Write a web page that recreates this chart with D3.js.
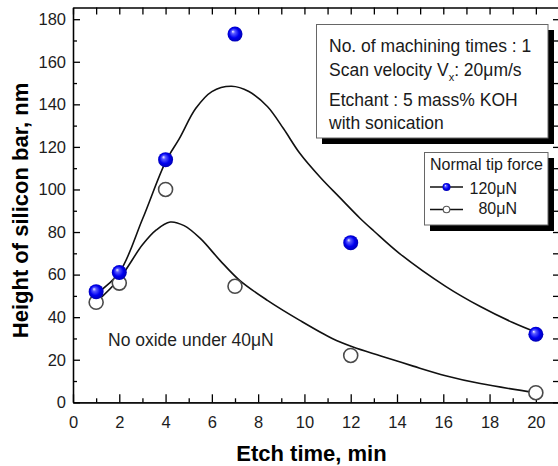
<!DOCTYPE html>
<html>
<head>
<meta charset="utf-8">
<script src="https://cdn.jsdelivr.net/npm/d3@7"></script>
<style>
  html, body { margin: 0; padding: 0; background: #fff; }
  svg { display: block; font-family: "Liberation Sans", Arial, sans-serif; }
</style>
</head>
<body>
<svg id="chart" width="558" height="466"></svg>
<script>
// Measured bar heights (nm) at each etch time (min)
const etchTimes = [1, 2, 4, 7, 12, 20];
const height120uN = [52, 61, 114, 173, 75, 32];
const height80uN = [47, 56, 100, 54.5, 22, 4.5];

// Fitted trend curves, [etch time, height]
const fit120uN = [[1, 51], [2, 61], [3, 86], [4, 113], [4.6, 124], [5.3, 138], [6.0, 146],
  [6.85, 148.5], [7.6, 146], [8.4, 139], [9.1, 128.5], [9.8, 117], [10.7, 105.5], [11.5, 96.5],
  [12.4, 86.5], [13.0, 80.5], [14.1, 70], [16.1, 54.5], [17.6, 45], [19, 37.5], [20, 33]];
const fit80uN = [[1, 47], [2, 58], [3, 74], [3.6, 81], [4.2, 84.7], [4.8, 83], [5.5, 77],
  [6.35, 66.7], [7.2, 57.3], [8.4, 47.9], [9.8, 38.5], [11.2, 30], [12.1, 26], [13.3, 21.8],
  [14.7, 17], [16.1, 12.5], [17.6, 8.8], [20, 4.5]];

// Axis ticks
const xMajorTicks = [0, 2, 4, 6, 8, 10, 12, 14, 16, 18, 20];
const xMinorTicks = [1, 3, 5, 7, 9, 11, 13, 15, 17, 19];
const yMajorTicks = [0, 20, 40, 60, 80, 100, 120, 140, 160, 180];
const yMinorTicks = [10, 30, 50, 70, 90, 110, 130, 150, 170];
const xDomain = [0, 21];
const yDomain = [0, 185.5];

const infoLines = ["No. of machining times : 1", "Scan velocity V", "Etchant : 5 mass% KOH", "with sonication"];
const legendTitle = "Normal tip force";
const seriesNames = ["120μN", "80μN"];
const note = "No oxide under 40μN";

const svg = d3.select("#chart");
const plotLeft = 73, plotRight = 559, plotTop = 7.5, plotBottom = 402.3;

const x = d3.scaleLinear().domain(xDomain).range([plotLeft, plotRight]);
const y = d3.scaleLinear().domain(yDomain).range([plotBottom, plotTop]);

// Sphere shading for filled markers
const defs = svg.append("defs");
const grad = defs.append("radialGradient").attr("id", "sphere")
  .attr("cx", "50%").attr("cy", "50%").attr("r", "55%")
  .attr("fx", "35%").attr("fy", "32%");
grad.append("stop").attr("offset", "0%").attr("stop-color", "#f4f4ff");
grad.append("stop").attr("offset", "22%").attr("stop-color", "#5a5aff");
grad.append("stop").attr("offset", "60%").attr("stop-color", "#0000f0");
grad.append("stop").attr("offset", "100%").attr("stop-color", "#0000a8");

const axisColor = "#000";
const labelColor = "#1c1c1c";

function styleAxis(g) {
  g.selectAll("path, line").attr("stroke", axisColor).attr("stroke-width", 1.3);
  g.selectAll("text").attr("fill", labelColor).attr("font-size", 16.5)
    .attr("font-family", "'Liberation Sans', Arial, sans-serif");
}

// Bottom axis (ticks point inward)
svg.append("g").attr("transform", `translate(0,${plotBottom})`)
  .call(d3.axisBottom(x).tickValues(xMajorTicks).tickSize(-8).tickSizeOuter(0).tickPadding(13.5))
  .call(styleAxis);
svg.append("g").attr("transform", `translate(0,${plotBottom})`)
  .call(d3.axisBottom(x).tickValues(xMinorTicks).tickSize(-4).tickSizeOuter(0).tickFormat(""))
  .call(styleAxis);

// Left axis
svg.append("g").attr("transform", `translate(${plotLeft},0)`)
  .call(d3.axisLeft(y).tickValues(yMajorTicks).tickSize(-7).tickSizeOuter(0).tickPadding(7))
  .call(styleAxis);
svg.append("g").attr("transform", `translate(${plotLeft},0)`)
  .call(d3.axisLeft(y).tickValues(yMinorTicks).tickSize(-4).tickSizeOuter(0).tickFormat(""))
  .call(styleAxis);

// Top and right frame axes, unlabeled
svg.append("g").attr("transform", `translate(0,${plotTop})`)
  .call(d3.axisTop(x).tickValues(xMajorTicks.concat(xMinorTicks)).tickSize(-7).tickSizeOuter(0).tickFormat(""))
  .call(styleAxis);
svg.append("g").attr("transform", `translate(${plotRight},0)`)
  .call(d3.axisRight(y).tickValues(yMajorTicks.concat(yMinorTicks)).tickSize(-6).tickSizeOuter(0).tickFormat(""))
  .call(styleAxis);

// Axis titles
svg.append("text")
  .attr("x", 311.5).attr("y", 461)
  .attr("text-anchor", "middle")
  .attr("font-size", 22).attr("font-weight", "bold").attr("fill", "#000")
  .text("Etch time, min");
svg.append("text")
  .attr("transform", "translate(27.5,210.5) rotate(-90)")
  .attr("text-anchor", "middle")
  .attr("font-size", 22).attr("font-weight", "bold").attr("fill", "#000")
  .text("Height of silicon bar, nm");

// Fitted curves
const line = d3.line().x(d => x(d[0])).y(d => y(d[1])).curve(d3.curveCatmullRom.alpha(0.5));
svg.append("path").datum(fit120uN).attr("d", line)
  .attr("fill", "none").attr("stroke", "#111").attr("stroke-width", 1.6);
svg.append("path").datum(fit80uN).attr("d", line)
  .attr("fill", "none").attr("stroke", "#111").attr("stroke-width", 1.6);

// 80 μN markers (open circles)
svg.append("g").selectAll("circle")
  .data(etchTimes.map((t, i) => [t, height80uN[i]]))
  .join("circle")
  .attr("cx", d => x(d[0])).attr("cy", d => y(d[1])).attr("r", 7)
  .attr("fill", "#fff").attr("stroke", "#4a4a4a").attr("stroke-width", 1.6);

// 120 μN markers (blue spheres)
svg.append("g").selectAll("circle")
  .data(etchTimes.map((t, i) => [t, height120uN[i]]))
  .join("circle")
  .attr("cx", d => x(d[0])).attr("cy", d => y(d[1])).attr("r", 7.5)
  .attr("fill", "url(#sphere)");

// Condition box
const info = svg.append("g");
info.append("rect").attr("x", 322).attr("y", 30).attr("width", 232).attr("height", 114).attr("fill", "#000");
info.append("rect").attr("x", 316.5).attr("y", 24.5).attr("width", 231.5).attr("height", 113.5)
  .attr("fill", "#fff").attr("stroke", "#666").attr("stroke-width", 1);
const infoBaselines = [52, 76, 106, 129];
infoLines.forEach((t, i) => {
  const txt = info.append("text").attr("x", 329).attr("y", infoBaselines[i])
    .attr("font-size", 17.5).attr("fill", "#1a1a1a").text(t);
  if (i === 1) {
    txt.append("tspan").attr("font-size", 11).attr("dy", 5).text("x");
    txt.append("tspan").attr("dy", -5).text(": 20μm/s");
  }
});

// Legend
const lg = svg.append("g");
lg.append("rect").attr("x", 430).attr("y", 158).attr("width", 124).attr("height", 73).attr("fill", "#000");
lg.append("rect").attr("x", 424.5).attr("y", 152.5).attr("width", 123.5).attr("height", 72.5)
  .attr("fill", "#fff").attr("stroke", "#666").attr("stroke-width", 1);
lg.append("text").attr("x", 430).attr("y", 170).attr("font-size", 16).attr("fill", "#1a1a1a").text(legendTitle);
const rowY = [187, 209.5];
const rowBase = [194.3, 214.3];
rowY.forEach((ry, i) => {
  lg.append("line").attr("x1", 430).attr("x2", 463).attr("y1", ry).attr("y2", ry)
    .attr("stroke", "#111").attr("stroke-width", 1.6);
  if (i === 0) {
    lg.append("circle").attr("cx", 446.5).attr("cy", ry).attr("r", 4).attr("fill", "url(#sphere)");
  } else {
    lg.append("circle").attr("cx", 446.5).attr("cy", ry).attr("r", 3.3)
      .attr("fill", "#fff").attr("stroke", "#555").attr("stroke-width", 1.1);
  }
  lg.append("text").attr("x", 517).attr("y", rowBase[i]).attr("text-anchor", "end")
    .attr("font-size", 16).attr("fill", "#1a1a1a").text(seriesNames[i]);
});

// Annotation
svg.append("text").attr("x", 108).attr("y", 346)
  .attr("font-size", 17.5).attr("fill", "#1f1f1f").text(note);
</script>
</body>
</html>
